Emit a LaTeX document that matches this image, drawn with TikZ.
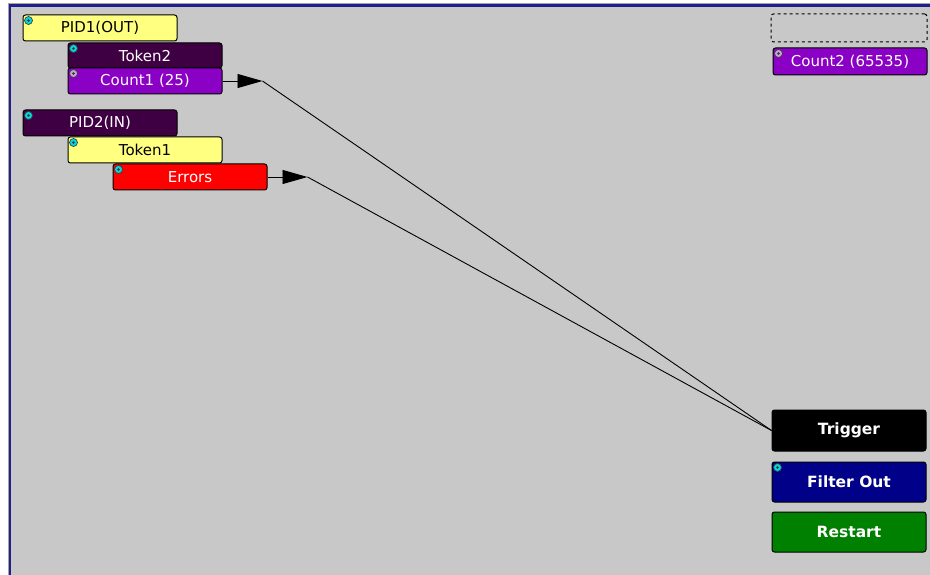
\documentclass[tikz,border=0pt]{standalone}
\usepackage{fontspec}
\setmainfont{DejaVu Sans}
\usetikzlibrary{arrows.meta}

\definecolor{panelgray}{HTML}{C8C8C8}
\definecolor{frameblue}{HTML}{20208C}
\definecolor{frametan}{HTML}{A8A298}
\definecolor{pinyellow}{HTML}{FFFF80}
\definecolor{pinplum}{HTML}{3E0042}
\definecolor{pinviolet}{HTML}{8A00C4}
\definecolor{pinnavy}{HTML}{000088}
\definecolor{pingreen}{HTML}{008000}
\definecolor{pincyan}{HTML}{00D8E0}
\definecolor{pinlilac}{HTML}{C8A0D8}

\tikzset{
  block/.style={draw=black, line width=1pt, rounded corners=2.5pt,
    minimum width=154pt, minimum height=26pt, inner sep=0pt,
    font=\fontsize{15}{17}\selectfont},
  cmd/.style={block, minimum height=40pt, text=white,
    font=\fontsize{15.5}{17}\selectfont\bfseries},
  link/.style={line width=0.9pt, black},
  tip/.style={-{Triangle[length=25pt,width=14pt]}}
}
\newcommand{\pinmark}[2]{%
  \filldraw[fill=#2, draw=black!75, line width=0.7pt]
    ([shift={(6,6)}]#1.north west) circle (4);
  \fill[black!80] ([shift={(6,6)}]#1.north west) circle (1.3);}

\begin{document}
\begin{tikzpicture}[x=1pt, y=-1pt]
  \useasboundingbox (0,0) rectangle (930,575);
  \fill[white] (0,0) rectangle (930,575);
  \fill[panelgray] (8,3) rectangle (930,575);
  \draw[frametan, line width=1pt] (8.5,575) -- (8.5,3.5) -- (930,3.5);
  \draw[frameblue, line width=2.2pt] (10.3,575) -- (10.3,5.6) -- (930,5.6);

  % left column
  \node[block, fill=pinyellow] (pid1) at (100,28) {PID1(OUT)};
  \node[block, fill=pinplum, text=white, minimum height=25pt] (token2) at (145,55.5) {Token2};
  \node[block, fill=pinviolet, text=white] (count1) at (145,81) {Count1 (25)};
  \node[block, fill=pinplum, text=white] (pid2) at (100,123) {PID2(IN)};
  \node[block, fill=pinyellow] (token1) at (145,150) {Token1};
  \node[block, fill=red, text=white] (errors) at (190,177) {Errors};

  % right column
  \node[block, dashed, minimum width=156pt, minimum height=28pt] (slot) at (849,28) {};
  \node[block, fill=pinviolet, text=white, minimum height=27pt] (count2) at (850,61.5) {Count2 (65535)};
  \node[cmd, fill=black, minimum height=41pt] (trigger) at (849,430.5) {Trigger};
  \node[cmd, fill=pinnavy] (filterout) at (849,482) {Filter Out};
  \node[cmd, fill=pingreen] (restart) at (849,532) {Restart};

  \pinmark{pid1}{pincyan}
  \pinmark{token2}{pincyan}
  \pinmark{count1}{pinlilac}
  \pinmark{pid2}{pincyan}
  \pinmark{token1}{pincyan}
  \pinmark{errors}{pincyan}
  \pinmark{count2}{pinlilac}
  \pinmark{filterout}{pincyan}

  % connectors
  \draw[link, tip] (count1.east) -- ++(40,0) coordinate (c1tip);
  \draw[link] (c1tip) -- (trigger.west);
  \draw[link, tip] (errors.east) -- ++(40,0) coordinate (errtip);
  \draw[link] (errtip) -- (trigger.west);
\end{tikzpicture}
\end{document}
